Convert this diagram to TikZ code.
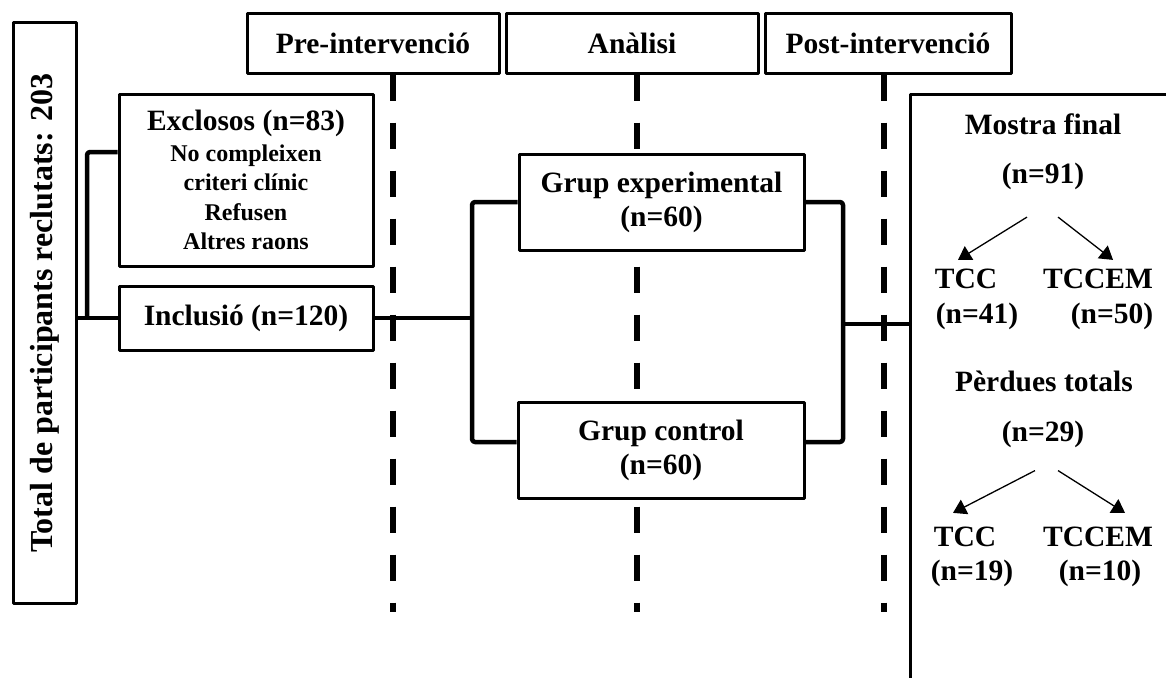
\documentclass[tikz,border=0pt]{standalone}
\usepackage{fontspec}
\setmainfont{Liberation Serif}
\usetikzlibrary{arrows.meta,backgrounds}

\begin{document}
\begin{tikzpicture}[x=1pt, y=-1pt, line join=round]
\tikzstyle{box_style} = [draw=black, fill=white, line width=3pt, rectangle, inner sep=0pt, align=center, font=\bfseries\fontsize{29.5}{34}\selectfont]
\tikzstyle{phase_style} = [box_style, minimum height=59pt]
\tikzstyle{link_style} = [draw=black, line width=4.5pt, rounded corners=3pt]
\tikzstyle{dash_style} = [draw=black, line width=6pt, dash pattern=on 26pt off 22pt]
\tikzstyle{arrow_style} = [draw=black, line width=1.3pt, -{Triangle[length=13pt,width=16pt]}]
\tikzstyle{text_style} = [inner sep=0pt, font=\bfseries\fontsize{29.5}{34}\selectfont]

\useasboundingbox (0,0) rectangle (1166,677);
\clip (0,0) rectangle (1166,677);

\node[box_style, rotate=90, minimum width=580pt, minimum height=63pt, font=\bfseries\fontsize{32}{36}\selectfont] (total) at (44.5,313) {Total de participants reclutats: 203};

\node[phase_style, minimum width=252pt] (pre) at (373,43.5) {Pre-intervenció};
\node[phase_style, minimum width=252pt] (anal) at (632,43.5) {Anàlisi};
\node[phase_style, minimum width=246pt] (post) at (888,43.5) {Post-intervenció};

\node[box_style, minimum width=254pt, minimum height=172pt, font=\bfseries\fontsize{24}{29.5}\selectfont] (excl) at (246,180) {{\fontsize{29.5}{32}\selectfont Exclosos (n=83)}\\[1pt]No compleixen\\criteri clínic\\Refusen\\Altres raons};
\node[box_style, minimum width=254pt, minimum height=64pt] (incl) at (246,318) {Inclusió (n=120)};

\node[box_style, minimum width=285pt, minimum height=96pt] (exp) at (661.5,202) {Grup experimental\\(n=60)};
\node[box_style, minimum width=286pt, minimum height=96pt] (ctrl) at (661,450) {Grup control\\(n=60)};

\node[box_style, line width=2.5pt, minimum width=300pt, minimum height=640pt, anchor=north west] (final) at (909,93) {};

% phase lines
\coordinate (pre_end) at (393,612);
\coordinate (anal_end) at (637,612);
\coordinate (post_end) at (884,612);
\begin{scope}[on background layer]
\draw[dash_style] (pre.south -| pre_end) -- (pre_end);
\draw[dash_style] (anal.south -| anal_end) -- (anal_end);
\draw[dash_style] (post.south -| post_end) -- (post_end);
\end{scope}

% links
\coordinate (fork_l) at (87,318);
\coordinate (fork_m) at (472,318);
\coordinate (fork_r) at (843,324);
\draw[link_style] (incl.west) -- (incl.west -| total.south);
\draw[link_style] ([yshift=28pt]excl.west) -| (fork_l);
\draw[link_style] (incl.east) -- (fork_m);
\draw[link_style] (exp.west) -| (fork_m) |- ([yshift=8pt]ctrl.west);
\draw[link_style] (exp.east) -| (fork_r) |- ([yshift=8pt]ctrl.east);
\draw[link_style] (fork_r) -- (fork_r -| final.west);

% final sample
\node[text_style] (mostra) at (1043,124) {Mostra final};
\node[text_style] (n91) at (1043,176.5) {(n=91)};
\node[text_style] (tcc_a) at (966,279) {TCC};
\node[text_style] (tcc_an) at (977,316) {(n=41)};
\node[text_style] (tccem_a) at (1098,279) {TCCEM};
\node[text_style] (tccem_an) at (1112,316) {(n=50)};
\node[text_style] (perd) at (1044,381) {Pèrdues totals};
\node[text_style] (n29) at (1043,434) {(n=29)};
\node[text_style] (tcc_b) at (965,537) {TCC};
\node[text_style] (tcc_bn) at (972,573.5) {(n=19)};
\node[text_style] (tccem_b) at (1098,537) {TCCEM};
\node[text_style] (tccem_bn) at (1100,573.5) {(n=10)};

\draw[arrow_style] ([xshift=-16pt,yshift=-27pt]n91.south) -- ([xshift=-8pt,yshift=9pt]tcc_a.north);
\draw[arrow_style] ([xshift=15pt,yshift=-27pt]n91.south) -- ([xshift=15pt,yshift=9pt]tccem_a.north);
\draw[arrow_style] ([xshift=-8pt,yshift=-23pt]n29.south) -- ([xshift=-12pt,yshift=14pt]tcc_b.north);
\draw[arrow_style] ([xshift=15pt,yshift=-23pt]n29.south) -- ([xshift=27pt,yshift=14pt]tccem_b.north);
\end{tikzpicture}
\end{document}
